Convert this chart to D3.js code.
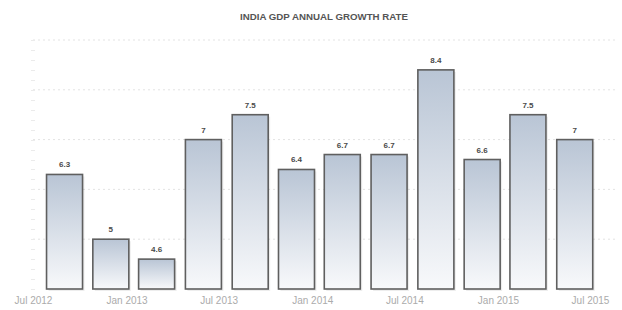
<!DOCTYPE html>
<html><head><meta charset="utf-8">
<script src="https://cdn.jsdelivr.net/npm/d3@7/dist/d3.min.js"></script>
<style>html,body{margin:0;padding:0;background:#fff;}svg{display:block;}</style>
</head><body>
<svg id="c" width="622" height="310"></svg>
<script>
const title = "INDIA GDP ANNUAL GROWTH RATE";
const periods = ["2012-09","2012-12","2013-03","2013-06","2013-09","2013-12","2014-03","2014-06","2014-09","2014-12","2015-03","2015-06"];
const values = [6.3, 5, 4.6, 7, 7.5, 6.4, 6.7, 6.7, 8.4, 6.6, 7.5, 7];
const valueLabels = ["6.3","5","4.6","7","7.5","6.4","6.7","6.7","8.4","6.6","7.5","7"];
const tickDates = ["2012-07","2013-01","2013-07","2014-01","2014-07","2015-01","2015-07"];
const gridValues = [5, 6, 7, 8, 9];

const parse = d3.timeParse("%Y-%m");
const svg = d3.select("#c");

const x = d3.scaleTime().domain([parse("2012-07"), parse("2015-07")]).range([33, 590]);
const y = d3.scaleLinear().domain([4, 9]).range([289, 40]);
const barW = 36;

const defs = svg.append("defs");
const g = defs.append("linearGradient").attr("id","bg").attr("x1",0).attr("y1",0).attr("x2",0).attr("y2",1);
g.append("stop").attr("offset","0%").attr("stop-color","#b9c5d5");
g.append("stop").attr("offset","100%").attr("stop-color","#f8f9fb");

// title
svg.append("text").attr("x", 324).attr("y", 20).attr("text-anchor","middle")
  .attr("font-family","Liberation Sans Narrow, Arial Narrow, Liberation Sans, sans-serif")
  .attr("font-size", 9).attr("font-weight","bold").attr("fill","#555")
  .attr("textLength", 168).attr("lengthAdjust","spacingAndGlyphs").text(title);

// gridlines
svg.append("g").selectAll("line").data(gridValues).join("line")
  .attr("x1", 33).attr("x2", 618).attr("y1", d => y(d)).attr("y2", d => y(d))
  .attr("stroke","#e3e3e3").attr("stroke-width",1).attr("stroke-dasharray","2,3");

// y axis minor ticks
const minor = d3.range(4, 9.01, 0.2);
svg.append("g").selectAll("line").data(minor).join("line")
  .attr("x1", 31).attr("x2", 35).attr("y1", d => Math.round(y(d))+0.5).attr("y2", d => Math.round(y(d))+0.5)
  .attr("stroke","#ebebeb").attr("stroke-width",1);

// bars
const data = periods.map((p,i) => ({d: parse(p), v: values[i], l: valueLabels[i]}));
svg.append("g").selectAll("rect.s").data(data).join("rect")
  .attr("x", d => x(d.d) - barW/2 + 2).attr("y", d => y(d.v) + 2)
  .attr("width", barW).attr("height", d => y(4) - y(d.v))
  .attr("fill","#000").attr("opacity",0.07);
svg.append("g").selectAll("rect.b").data(data).join("rect")
  .attr("x", d => x(d.d) - barW/2).attr("y", d => y(d.v))
  .attr("width", barW).attr("height", d => y(4) - y(d.v))
  .attr("fill","url(#bg)").attr("stroke","#5f5f5f").attr("stroke-width",1.6);

// value labels
svg.append("g").selectAll("text").data(data).join("text")
  .attr("x", d => x(d.d)).attr("y", d => y(d.v) - 7).attr("text-anchor","middle")
  .attr("font-family","Liberation Sans Narrow, Liberation Sans, sans-serif")
  .attr("font-size", 8).attr("font-weight","bold").attr("fill","#4a4a4a").text(d => d.l);

// x axis labels
const fmt = d3.timeFormat("%b %Y");
const xAxis = d3.axisBottom(x).tickValues(tickDates.map(parse)).tickFormat(fmt).tickSize(0);
const ax = svg.append("g").attr("transform","translate(0,292)").call(xAxis);
ax.select(".domain").remove();
ax.selectAll("text").attr("font-family","Liberation Sans, sans-serif").attr("font-size",10).attr("fill","#ababab").attr("dy","0.9em");
</script>
</body></html>
